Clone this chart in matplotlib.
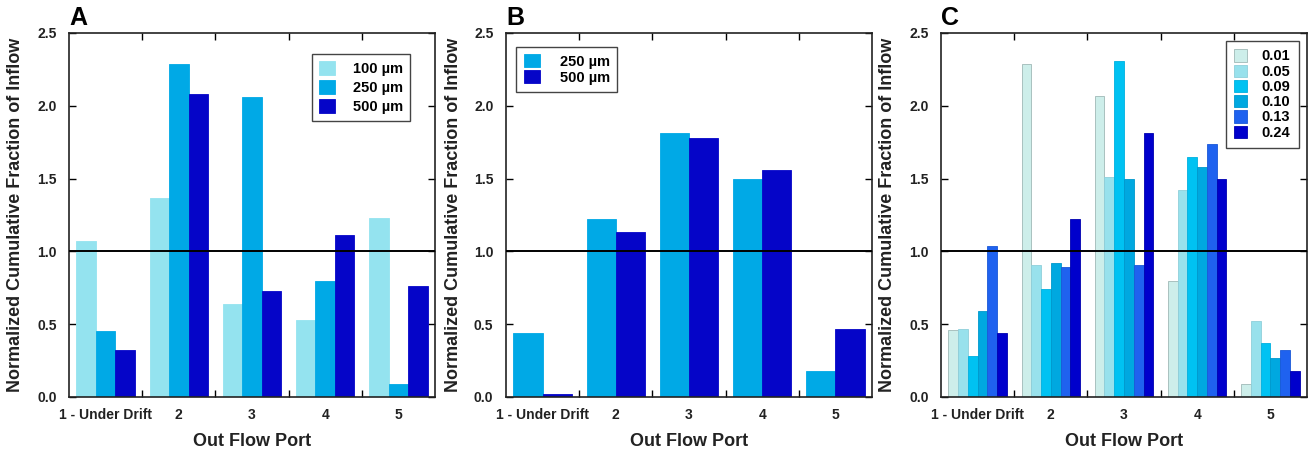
import matplotlib
matplotlib.use("Agg")
import matplotlib.pyplot as plt
import numpy as np
from matplotlib.ticker import FixedLocator

plt.rcParams['font.family'] = ['Liberation Sans', 'DejaVu Sans']
plt.rcParams['font.weight'] = 'bold'

ports = ["1 - Under Drift", "2", "3", "4", "5"]
yticks = [0.0, 0.5, 1.0, 1.5, 2.0, 2.5]

# Panel A
a_labels = ["100 \u00b5m", "250 \u00b5m", "500 \u00b5m"]
a_100 = [1.07, 1.37, 0.64, 0.53, 1.23]
a_250 = [0.45, 2.29, 2.06, 0.80, 0.09]
a_500 = [0.32, 2.08, 0.73, 1.11, 0.76]
a_colors = ["#94e3ef", "#00a9e6", "#0505c8"]

# Panel B
b_labels = ["250 \u00b5m", "500 \u00b5m"]
b_250 = [0.44, 1.22, 1.81, 1.50, 0.18]
b_500 = [0.02, 1.13, 1.78, 1.56, 0.47]
b_colors = ["#00a9e6", "#0505c8"]

# Panel C
c_labels = ["0.01", "0.05", "0.09", "0.10", "0.13", "0.24"]
c_001 = [0.46, 2.29, 2.07, 0.80, 0.09]
c_005 = [0.47, 0.91, 1.51, 1.42, 0.52]
c_009 = [0.28, 0.74, 2.31, 1.65, 0.37]
c_010 = [0.59, 0.92, 1.50, 1.58, 0.27]
c_013 = [1.04, 0.89, 0.91, 1.74, 0.32]
c_024 = [0.44, 1.22, 1.81, 1.50, 0.18]
c_colors = ["#cdeeea", "#98e1ec", "#00c2f2", "#00a8e0", "#1f62ef", "#0000cc"]
c_edges = ["#9fb8b6", "#8fcfda", "#00b0e0", "#0098cc", "#1a58d8", "#0000b0"]

W, H = 1313, 453
fig = plt.figure(figsize=(W / 100, H / 100), dpi=100)

def fx(px):
    return px / W

def fy(py):
    return 1 - py / H

ax_bottom = fy(397)
ax_height = (397 - 33) / H
ax_width = 366 / W
lefts = [69, 506, 941]

def make_axes(left_px, letter, series, labels, colors, edges, legend_kw):
    ax = fig.add_axes([fx(left_px), ax_bottom, ax_width, ax_height])
    x = np.arange(len(ports))
    n = len(series)
    group = 0.8
    w = group / n
    for i, (vals, lab, col) in enumerate(zip(series, labels, colors)):
        off = -group / 2 + w * (i + 0.5)
        ec = edges[i] if edges is not None else col
        ax.bar(x + off, vals, width=w, color=col, edgecolor=ec, linewidth=0.6, label=lab, zorder=2)
    ax.axhline(1.0, color="black", lw=1.4, zorder=3)
    ax.set_xlim(-0.5, 4.5)
    ax.set_ylim(0, 2.5)
    ax.set_yticks(yticks)
    ax.set_yticklabels(["%.1f" % v for v in yticks])
    ax.set_xticks(x)
    ax.set_xticklabels(ports)
    ax.xaxis.set_minor_locator(FixedLocator([0.5, 1.5, 2.5, 3.5]))
    ax.tick_params(axis="x", which="major", length=0, pad=8, labelsize=10)
    ax.tick_params(axis="x", which="minor", direction="in", length=5, width=1, top=True, bottom=True)
    ax.tick_params(axis="y", which="major", direction="in", length=5, width=1, left=True, right=True, labelsize=10, pad=9)
    for lab in ax.get_xticklabels() + ax.get_yticklabels():
        lab.set_fontweight("bold")
        lab.set_color("#222222")
    for s in ax.spines.values():
        s.set_linewidth(1.2)
        s.set_color("#222222")
    ax.set_xlabel("Out Flow Port", fontsize=13, fontweight="bold", labelpad=8, color="#222222")
    ax.set_ylabel("Normalized Cumulative Fraction of Inflow", fontsize=13, fontweight="bold", labelpad=9, color="#222222")
    ax.text(0.0, 1.008, letter, transform=ax.transAxes, fontsize=18, fontweight="bold", ha="left", va="bottom")
    leg = ax.legend(**legend_kw)
    leg.get_frame().set_edgecolor("#444444")
    leg.get_frame().set_linewidth(1.0)
    for t in leg.get_texts():
        t.set_fontweight("bold")
    return ax

make_axes(lefts[0], "A", [a_100, a_250, a_500], a_labels, a_colors, None,
          dict(loc="upper right", bbox_to_anchor=(0.94, 0.95), fontsize=10.5, frameon=True, fancybox=False,
               framealpha=1, handlelength=1.1, handleheight=1.1, handletextpad=1.2, labelspacing=0.25,
               borderpad=0.5, borderaxespad=0.2))
make_axes(lefts[1], "B", [b_250, b_500], b_labels, b_colors, None,
          dict(loc="upper left", bbox_to_anchor=(0.02, 0.97), fontsize=10.5, frameon=True, fancybox=False,
               framealpha=1, handlelength=1.1, handleheight=1.0, handletextpad=1.4, labelspacing=0.1,
               borderpad=0.5, borderaxespad=0.2))
make_axes(lefts[2], "C", [c_001, c_005, c_009, c_010, c_013, c_024], c_labels, c_colors, c_edges,
          dict(loc="upper right", bbox_to_anchor=(0.985, 0.985), fontsize=10.5, frameon=True, fancybox=False,
               framealpha=1, handlelength=0.9, handleheight=0.9, handletextpad=1.0, labelspacing=0.08,
               borderpad=0.55, borderaxespad=0.2))

fig.savefig("out.png", dpi=100)
